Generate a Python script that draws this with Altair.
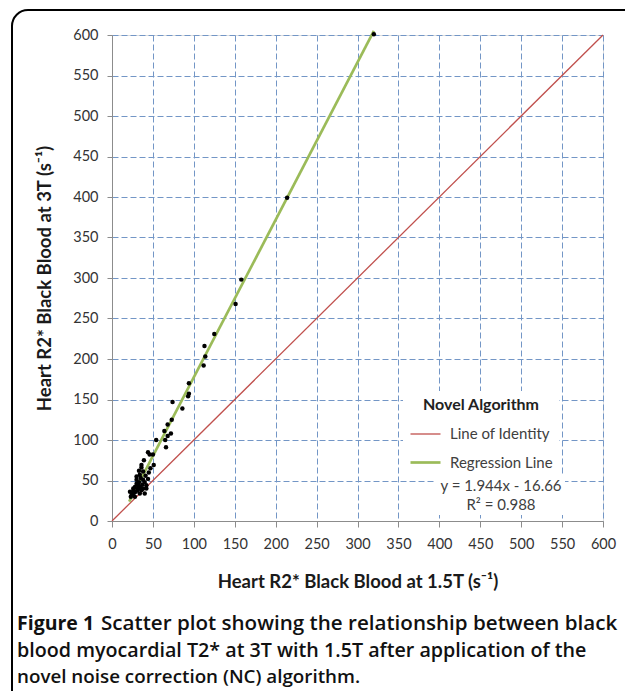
import altair as alt
import pandas as pd

# ---- data ----
pt_x = [320, 214, 158, 151, 125, 113, 114, 112, 94, 94, 93, 74, 86, 73, 68, 64, 72, 68, 65, 54,
        66, 46, 50, 51, 47, 36, 38, 34, 30, 38, 32, 26, 22, 24, 34, 40, 28, 42, 36, 42,
        30, 33, 35, 28, 31, 37, 40, 44, 27, 25, 29, 32, 35, 38, 30, 33, 36, 41, 45, 39, 44, 23, 26]
pt_y = [601, 399, 298, 268, 231, 216, 203, 192, 170, 157, 154, 147, 139, 125, 119, 111, 108, 105, 100, 100,
        91, 82, 82, 69, 65, 69, 61, 57, 51, 51, 44, 40, 36, 32, 34, 34, 30, 44, 38, 40,
        46, 48, 53, 42, 38, 45, 48, 52, 35, 33, 36, 40, 42, 40, 55, 62, 66, 56, 60, 75, 85, 30, 37]

identity_x = [0, 600]
identity_y = [0, 600]
regression_x = [21, 320]
regression_y = [24, 605]

series_names = ["Line of Identity", "Regression Line"]
series_colors = ["#C0504D", "#9BBB59"]
axis_ticks = [0, 50, 100, 150, 200, 250, 300, 350, 400, 450, 500, 550, 600]

legend_title = "Novel Algorithm"
equation_lines = ["y = 1.944x - 16.66", "R² = 0.988"]
x_title = "Heart R2* Black Blood at 1.5T (s⁻¹)"
y_title = "Heart R2* Black Blood at 3T (s⁻¹)"
caption_bold = "Figure 1"
caption_lines = [
    "Scatter plot showing the relationship between black",
    "blood myocardial T2* at 3T with 1.5T after application of the",
    "novel noise correction (NC) algorithm.",
]

# ---- build tables ----
pts = pd.DataFrame({"x": pt_x, "y": pt_y})
lines = pd.DataFrame({
    "x": identity_x + regression_x,
    "y": identity_y + regression_y,
    "series": [series_names[0]] * len(identity_x) + [series_names[1]] * len(regression_x),
})
one = pd.DataFrame({"k": [0]})

W, H = 491, 486
LBL_FONT = "Lato"

xs = alt.Scale(domain=[0, 600], nice=False)
ys = alt.Scale(domain=[0, 600], nice=False)

x_axis = alt.Axis(values=axis_ticks, title=x_title, grid=True, gridDash=[6, 3],
                  gridColor="#7396C6", gridWidth=1, domainColor="#8C8C8C",
                  tickColor="#8C8C8C", tickSize=6, labelPadding=10, labelFlush=False,
                  labelFont=LBL_FONT, labelFontSize=14.5, labelColor="#333333",
                  titleFont=LBL_FONT, titleFontSize=18.5, titleFontWeight="bold",
                  titleColor="#1a1a1a", titlePadding=22)
y_axis = alt.Axis(values=axis_ticks, title=y_title, grid=True, gridDash=[6, 3],
                  gridColor="#7396C6", gridWidth=1, domainColor="#8C8C8C",
                  tickColor="#8C8C8C", tickSize=5, labelPadding=9, labelFlush=False,
                  labelFont=LBL_FONT, labelFontSize=14.5, labelColor="#333333",
                  titleFont=LBL_FONT, titleFontSize=18.5, titleFontWeight="bold",
                  titleColor="#1a1a1a", titlePadding=18)

line_layer = alt.Chart(lines).mark_line().encode(
    x=alt.X("x:Q", scale=xs, axis=x_axis),
    y=alt.Y("y:Q", scale=ys, axis=y_axis),
    color=alt.Color("series:N",
                    scale=alt.Scale(domain=series_names, range=series_colors),
                    sort=series_names,
                    legend=alt.Legend(title=legend_title, orient="none",
                                      legendX=291, legendY=356,
                                      fillColor="white", padding=6,
                                      symbolType="stroke", symbolSize=900,
                                      symbolStrokeWidth=2,
                                      labelFont=LBL_FONT, labelFontSize=15,
                                      labelColor="#404040", labelOffset=8,
                                      rowPadding=4,
                                      titleFont=LBL_FONT, titleFontSize=16,
                                      titleFontWeight="bold", titleColor="#222222",
                                      titleAnchor="middle", titlePadding=5)),
    strokeWidth=alt.StrokeWidth("series:N",
                                scale=alt.Scale(domain=series_names, range=[1.3, 2.7]),
                                legend=None),
    detail="series:N",
)

point_layer = alt.Chart(pts).mark_circle(color="black", opacity=1, size=20).encode(
    x=alt.X("x:Q", scale=xs),
    y=alt.Y("y:Q", scale=ys),
)

eq_box = alt.Chart(one).mark_rect(fill="white").encode(
    x=alt.value(323), x2=alt.value(453), y=alt.value(441), y2=alt.value(480))

eq_text = [
    alt.Chart(one).mark_text(text=t, font=LBL_FONT, fontSize=15, color="#404040",
                             align="center", baseline="middle").encode(
        x=alt.value(389), y=alt.value(451 + 19 * i))
    for i, t in enumerate(equation_lines)
]

frame = alt.Chart(one).mark_rect(fill=None, stroke="black", strokeWidth=2,
                                 cornerRadius=16, filled=False).encode(
    x=alt.value(-100), x2=alt.value(560), y=alt.value(-25), y2=alt.value(700))

cap_font = "Open Sans"


def cap_text(txt, x, y, size, weight=600):
    return alt.Chart(one).mark_text(text=txt, font=cap_font, fontSize=size,
                                    fontWeight=weight, color="#111111", align="left",
                                    baseline="middle").encode(x=alt.value(x), y=alt.value(y))


cap = [
    cap_text(caption_bold, -95, 589, 19.5, weight="bold"),
    cap_text(caption_lines[0], -11, 589, 20.6),
    cap_text(caption_lines[1], -95, 616, 19.7),
    cap_text(caption_lines[2], -95, 642, 18.8),
]

chart = alt.layer(line_layer, point_layer, eq_box, *eq_text, frame, *cap).properties(
    width=W, height=H,
    autosize="none",
    padding={"left": 104, "top": 27, "right": 22, "bottom": 170},
).configure_view(stroke=None).configure(background="white")

chart.save("out.html", embed_options={"renderer": "svg", "actions": False})
